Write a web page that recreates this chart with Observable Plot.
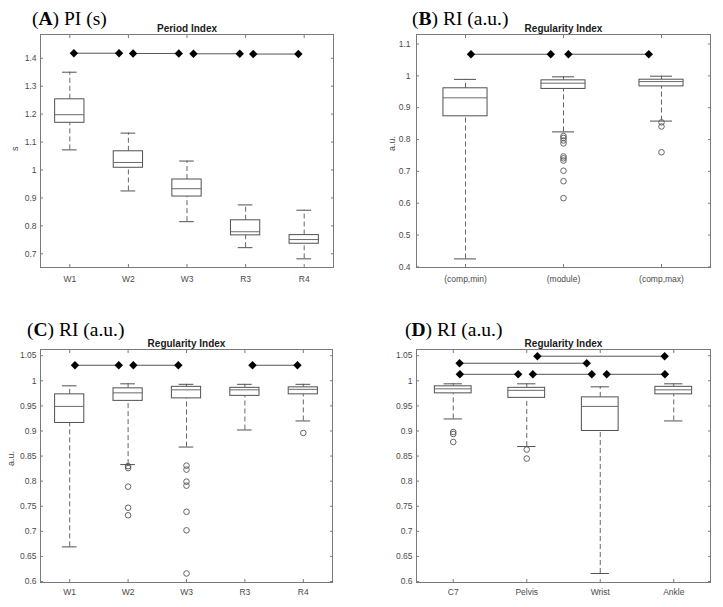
<!DOCTYPE html>
<html><head><meta charset="utf-8">
<script src="https://cdn.jsdelivr.net/npm/d3@7"></script>
<script src="https://cdn.jsdelivr.net/npm/@observablehq/plot@0.6"></script>
<style>
body{margin:0;background:#fff;}
#wrap{position:relative;width:723px;height:607px;background:#fff;overflow:hidden;}
.panel{position:absolute;}
.ptitle{position:absolute;font-family:"Liberation Serif","Times New Roman",serif;font-size:19.5px;color:#000;white-space:nowrap;line-height:1;}
</style></head><body><div id="wrap"></div>
<script>
// ---------- Panel A: Period Index ----------
const catsA = ["W1", "W2", "W3", "R3", "R4"];
const hiA  = [1.350, 1.132, 1.032, 0.875, 0.856];
const q3A  = [1.253, 1.067, 0.966, 0.820, 0.767];
const medA = [1.198, 1.027, 0.933, 0.779, 0.751];
const q1A  = [1.169, 1.008, 0.905, 0.766, 0.736];
const loA  = [1.072, 0.925, 0.815, 0.722, 0.682];
const outA = [[], [], [], [], []];
const sigA1 = [1.07, 2.08, 3.11, 4.13];
const sigA2 = [1.84, 2.86, 3.90, 4.90];
const sigAy = [1.418, 1.417, 1.416, 1.415];
const ticksA = [0.7, 0.8, 0.9, 1, 1.1, 1.2, 1.3, 1.4];

// ---------- Panel B: Regularity Index ----------
const catsB = ["(comp,min)", "(module)", "(comp,max)"];
const hiB  = [0.989, 0.997, 0.999];
const q3B  = [0.961, 0.986, 0.988];
const medB = [0.931, 0.977, 0.982];
const q1B  = [0.873, 0.959, 0.967];
const loB  = [0.425, 0.824, 0.858];
const outB = [[], [0.811, 0.805, 0.797, 0.788, 0.747, 0.741, 0.734, 0.702, 0.669, 0.616], [0.854, 0.841, 0.760]];
const sigB1 = [1.056, 2.05];
const sigB2 = [1.87, 2.87];
const sigBy = [1.068, 1.068];
const ticksB = [0.4, 0.5, 0.6, 0.7, 0.8, 0.9, 1, 1.1];

// ---------- Panel C: Regularity Index ----------
const catsC = ["W1", "W2", "W3", "R3", "R4"];
const hiC  = [0.990, 0.994, 0.993, 0.993, 0.993];
const q3C  = [0.973, 0.985, 0.988, 0.986, 0.987];
const medC = [0.949, 0.976, 0.982, 0.982, 0.983];
const q1C  = [0.916, 0.960, 0.965, 0.970, 0.973];
const loC  = [0.669, 0.833, 0.868, 0.902, 0.920];
const outC = [[], [0.830, 0.826, 0.789, 0.747, 0.732], [0.831, 0.823, 0.799, 0.791, 0.739, 0.702, 0.616], [], [0.896]];
const sigC1 = [1.09, 2.09, 4.13];
const sigC2 = [1.84, 2.86, 4.90];
const sigCy = [1.031, 1.031, 1.031];
const ticksCD = [0.6, 0.65, 0.7, 0.75, 0.8, 0.85, 0.9, 0.95, 1, 1.05];

// ---------- Panel D: Regularity Index ----------
const catsD = ["C7", "Pelvis", "Wrist", "Ankle"];
const hiD  = [0.994, 0.994, 0.988, 0.994];
const q3D  = [0.989, 0.986, 0.967, 0.988];
const medD = [0.984, 0.981, 0.949, 0.982];
const q1D  = [0.975, 0.966, 0.900, 0.973];
const loD  = [0.924, 0.869, 0.616, 0.920];
const outD = [[0.898, 0.894, 0.878], [0.863, 0.845], [], []];
const sigD1 = [2.145, 1.086, 1.09, 2.083, 3.088];
const sigD2 = [3.876, 2.816, 1.883, 2.885, 3.88];
const sigDy = [1.049, 1.035, 1.013, 1.013, 1.013];

const AX = "#7a7a7a";   // axes
const BX = "#505050";   // boxes

function panel(o) {
  const n = o.cats.length;
  const pos = d3.range(1, n + 1);
  const hw = o.hw;
  const rows = o.cats.map((c, i) => ({pos: i + 1, hi: o.hi[i], q3: o.q3[i], med: o.med[i], q1: o.q1[i], lo: o.lo[i]}));
  const outs = o.out.flatMap((a, i) => a.map(v => ({pos: i + 1, v})));
  const sig = o.s1.map((x, i) => ({x1: x, x2: o.s2[i], y: o.sy[i]}));
  const sigPts = sig.flatMap(s => [{x: s.x1, y: s.y}, {x: s.x2, y: s.y}]);
  const marks = [
    Plot.frame({stroke: AX}),
    // inward ticks on all four sides
    Plot.axisY(o.ticks, {anchor: "left", tickSize: -3, fill: "none", stroke: AX, label: null}),
    Plot.axisY(o.ticks, {anchor: "right", tickSize: -3, fill: "none", stroke: AX, label: null}),
    Plot.axisX(pos, {anchor: "bottom", tickSize: -3, fill: "none", stroke: AX, label: null}),
    Plot.axisX(pos, {anchor: "top", tickSize: -3, fill: "none", stroke: AX, label: null}),
    // tick labels
    Plot.axisY(o.ticks, {anchor: "left", tickSize: 0, tickPadding: o.yPad, tickFormat: d3.format("~g"), label: null}),
    Plot.axisX(pos, {anchor: "bottom", tickSize: 0, tickPadding: o.xPad, tickFormat: i => o.cats[i - 1], label: null}),
    // whiskers
    Plot.ruleX(rows, {x: "pos", y1: "q3", y2: "hi", stroke: "#666", strokeDasharray: "5,3"}),
    Plot.ruleX(rows, {x: "pos", y1: "lo", y2: "q1", stroke: "#666", strokeDasharray: "5,3"}),
    Plot.ruleY(rows, {y: "hi", x1: d => d.pos - hw / 2, x2: d => d.pos + hw / 2, stroke: BX}),
    Plot.ruleY(rows, {y: "lo", x1: d => d.pos - hw / 2, x2: d => d.pos + hw / 2, stroke: BX}),
    // boxes
    Plot.rect(rows, {x1: d => d.pos - hw, x2: d => d.pos + hw, y1: "q1", y2: "q3", fill: "white", stroke: BX}),
    Plot.ruleY(rows, {y: "med", x1: d => d.pos - hw, x2: d => d.pos + hw, stroke: "#6a6a6a"}),
    // outliers
    Plot.dot(outs, {x: "pos", y: "v", r: 2.8, stroke: "#555", strokeWidth: 0.9, fill: "none"}),
    // significance bars
    Plot.ruleY(sig, {y: "y", x1: "x1", x2: "x2", stroke: "#555"}),
    Plot.dot(sigPts, {x: "x", y: "y", symbol: "diamond2", r: 3.8, fill: "black", stroke: "none"}),
    // subtitle
    Plot.text([o.subtitle], {frameAnchor: "top", lineAnchor: "bottom", dy: -3, fontWeight: "bold", fontSize: 10, fill: "#1a1a1a"})
  ];
  if (o.ylabel) {
    marks.push(Plot.text([o.ylabel], {frameAnchor: "left", dx: o.ylabelDx, rotate: -90, fontSize: 9, fill: "#444"}));
  }
  return Plot.plot({
    width: o.width, height: o.height,
    marginTop: o.m[0], marginRight: o.m[1], marginBottom: o.m[2], marginLeft: o.m[3],
    x: {type: "linear", domain: [0.5, n + 0.5], label: null},
    y: {type: "linear", domain: o.yDomain, label: null},
    style: {fontFamily: "'Liberation Sans', Arial, sans-serif", fontSize: "8.5px", color: "#4a4a4a", background: "white", overflow: "visible"},
    marks
  });
}

const wrap = document.getElementById("wrap");
function place(el, left, top) {
  const d = document.createElement("div");
  d.className = "panel";
  d.style.left = left + "px"; d.style.top = top + "px";
  d.appendChild(el);
  wrap.appendChild(d);
}
function title(letter, rest, left, baseline) {
  const t = document.createElement("div");
  t.className = "ptitle";
  t.innerHTML = "(<b>" + letter + "</b>) " + rest;
  t.style.left = left + "px";
  t.style.top = (baseline - 16.3) + "px";
  wrap.appendChild(t);
}

place(panel({cats: catsA, hi: hiA, q3: q3A, med: medA, q1: q1A, lo: loA, out: outA,
  s1: sigA1, s2: sigA2, sy: sigAy, ticks: ticksA, yDomain: [0.651, 1.485], hw: 0.25,
  subtitle: "Period Index", ylabel: "s", ylabelDx: -25, yPad: 4, xPad: 8,
  width: 362, height: 300, m: [34, 29, 33, 40]}), 0, 0);
place(panel({cats: catsB, hi: hiB, q3: q3B, med: medB, q1: q1B, lo: loB, out: outB,
  s1: sigB1, s2: sigB2, sy: sigBy, ticks: ticksB, yDomain: [0.398, 1.130], hw: 0.225,
  subtitle: "Regularity Index", ylabel: "a.u.", ylabelDx: -24, yPad: 6, xPad: 8,
  width: 361, height: 300, m: [34, 13, 33, 54]}), 362, 0);
place(panel({cats: catsC, hi: hiC, q3: q3C, med: medC, q1: q1C, lo: loC, out: outC,
  s1: sigC1, s2: sigC2, sy: sigCy, ticks: ticksCD, yDomain: [0.598, 1.0624], hw: 0.25,
  subtitle: "Regularity Index", ylabel: "a.u.", ylabelDx: -29, yPad: 4, xPad: 6,
  width: 362, height: 307, m: [49, 30, 25, 40]}), 0, 300);
place(panel({cats: catsD, hi: hiD, q3: q3D, med: medD, q1: q1D, lo: loD, out: outD,
  s1: sigD1, s2: sigD2, sy: sigDy, ticks: ticksCD, yDomain: [0.598, 1.0624], hw: 0.25,
  subtitle: "Regularity Index", ylabel: null, yPad: 4, xPad: 6,
  width: 361, height: 307, m: [49, 13, 25, 54]}), 362, 300);

title("A", "PI (s)", 32, 25);
title("B", "RI (a.u.)", 412, 25);
title("C", "RI (a.u.)", 27, 336);
title("D", "RI (a.u.)", 405, 336);
</script></body></html>
